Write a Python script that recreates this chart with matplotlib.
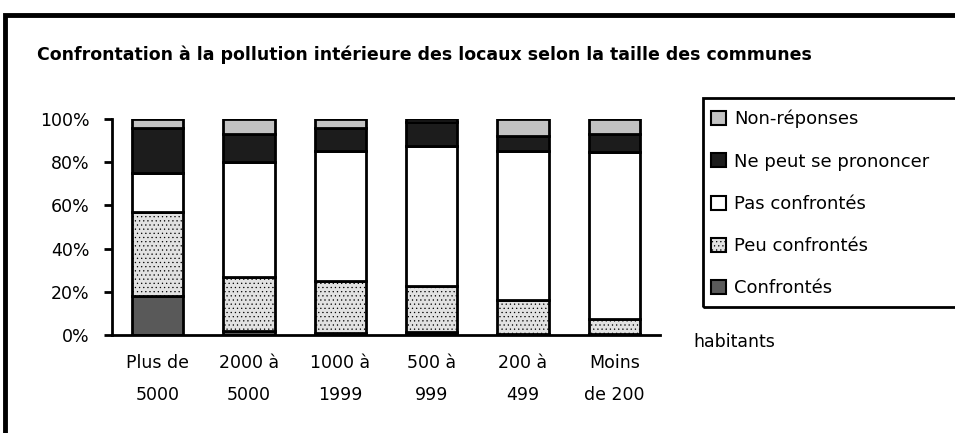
import matplotlib
matplotlib.use("Agg")
import matplotlib.pyplot as plt
from matplotlib.patches import Rectangle
import numpy as np

categories = ["Plus de\n5000", "2000 à\n5000", "1000 à\n1999", "500 à\n999", "200 à\n499", "Moins\nde 200"]
series_names = ["Confrontés", "Peu confrontés", "Pas confrontés", "Ne peut se prononcer", "Non-réponses"]
confrontes = [18, 2, 1, 1.5, 0.5, 0.5]
peu_confrontes = [39, 25, 24, 21, 15.5, 7]
pas_confrontes = [18, 53, 60, 65, 69, 77]
ne_peut = [21, 13, 11, 11, 7, 8.5]
non_reponses = [4, 7, 4, 1.5, 8, 7]
yticks = [0, 20, 40, 60, 80, 100]
ytick_labels = ["0%", "20%", "40%", "60%", "80%", "100%"]

colors = ["#595959", "#e2e2e2", "#ffffff", "#1c1c1c", "#c3c3c3"]
hatches = [None, "....", None, None, None]

plt.rcParams["font.family"] = ["DejaVu Sans"]
plt.rcParams["hatch.color"] = "#d6d6d6"
plt.rcParams["hatch.linewidth"] = 0.4

W, H = 955, 433
fig = plt.figure(figsize=(W / 100, H / 100), dpi=100)

def fx(px):
    return px / W

def fy(py):
    return 1 - py / H

ax = fig.add_axes([fx(112), fy(335), fx(660) - fx(112), fy(119) - fy(335)])

x = np.arange(len(categories))
values = [confrontes, peu_confrontes, pas_confrontes, ne_peut, non_reponses]
bottom = np.zeros(len(categories))
handles = []
for name, vals, col, hat in zip(series_names, values, colors, hatches):
    b = ax.bar(x, vals, bottom=bottom, width=0.56, color=col, edgecolor="black",
               linewidth=2, hatch=hat, label=name)
    bottom += np.array(vals)
    handles.append(b)

ax.set_xlim(-0.5, len(categories) - 0.5)
ax.set_ylim(0, 100)
ax.set_yticks(yticks)
ax.set_yticklabels(ytick_labels, fontsize=12.5)
ax.set_xticks(x)
ax.set_xticklabels(categories, fontsize=12.5, linespacing=2.0)
ax.tick_params(axis="x", length=0, pad=14)
ax.tick_params(axis="y", length=6, width=2, direction="out", pad=10)
for s in ["top", "right"]:
    ax.spines[s].set_visible(False)
ax.spines["left"].set_linewidth(2)
ax.spines["bottom"].set_linewidth(2)
ax.spines["bottom"].set_bounds(-0.5, len(categories) - 0.5)

# outer frame
fig.patches.append(Rectangle((fx(5), fy(440)), 1.2, fy(15) - fy(440), transform=fig.transFigure,
                             fill=False, edgecolor="black", linewidth=3.5, clip_on=False))

fig.text(fx(37), fy(55), "Confrontation à la pollution intérieure des locaux selon la taille des communes",
         fontsize=12.5, fontweight="bold", va="center", ha="left")

# legend frame and entries
fig.patches.append(Rectangle((fx(703), fy(307)), fx(960) - fx(703), fy(98) - fy(307),
                             transform=fig.transFigure, fill=False, edgecolor="black",
                             linewidth=2, clip_on=False))
leg = fig.legend(handles[::-1], series_names[::-1], loc="upper left",
                 bbox_to_anchor=(fx(711), fy(110)), frameon=False, fontsize=13,
                 handlelength=0.82, handleheight=0.82, handletextpad=0.45,
                 labelspacing=1.34, borderaxespad=0, borderpad=0)
for p in leg.get_patches():
    p.set_linewidth(1.5)

fig.text(fx(693), fy(342), "habitants", fontsize=12.5, va="center", ha="left")

fig.savefig("out.png", dpi=100)
